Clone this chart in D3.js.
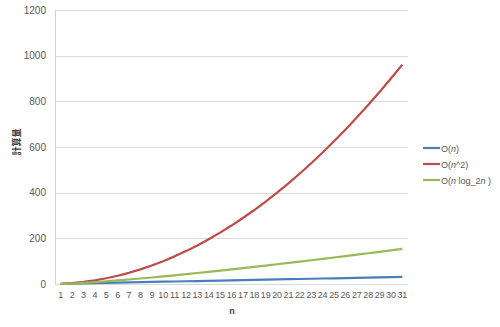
<!DOCTYPE html>
<html>
<head>
<meta charset="utf-8">
<script src="https://cdn.jsdelivr.net/npm/d3@7"></script>
<style>
  body { margin: 0; background: #fff; }
  svg { display: block; }
</style>
</head>
<body>
<svg width="500" height="327"></svg>
<script>
var ns = [1, 2, 3, 4, 5, 6, 7, 8, 9, 10, 11, 12, 13, 14, 15, 16, 17, 18, 19, 20, 21, 22, 23, 24, 25, 26, 27, 28, 29, 30, 31];
var linear = [1, 2, 3, 4, 5, 6, 7, 8, 9, 10, 11, 12, 13, 14, 15, 16, 17, 18, 19, 20, 21, 22, 23, 24, 25, 26, 27, 28, 29, 30, 31];
var square = [1, 4, 9, 16, 25, 36, 49, 64, 81, 100, 121, 144, 169, 196, 225, 256, 289, 324, 361, 400, 441, 484, 529, 576, 625, 676, 729, 784, 841, 900, 961];
var nlogn = [0, 2, 4.75, 8, 11.6, 15.5, 19.7, 24, 28.5, 33.2, 38.1, 43, 48.1, 53.3, 58.6, 64, 69.5, 75.1, 80.7, 86.4, 92.2, 98.1, 104, 110, 116.1, 122.2, 128.4, 134.6, 140.9, 147.2, 153.6];
var yTicks = [0, 200, 400, 600, 800, 1000, 1200];

var series = [
  { name: "n", vals: linear, color: "#4a7ebb" },
  { name: "n^2", vals: square, color: "#be4b48" },
  { name: "nlog", vals: nlogn, color: "#98b954" }
];

const svg = d3.select("svg");
const plotL = 55, plotR = 408, plotT = 10, plotB = 284;
const font = "'Liberation Sans', Arial, sans-serif";

var x = d3.scaleBand().domain(ns).range([plotL, plotR]);
var y = d3.scaleLinear().domain([0, 1200]).range([plotB, plotT]);

// gridlines
svg.append("g")
  .selectAll("line")
  .data(yTicks)
  .enter()
  .append("line")
  .attr("x1", plotL)
  .attr("x2", plotR)
  .attr("y1", d => Math.round(y(d)) + 0.5)
  .attr("y2", d => Math.round(y(d)) + 0.5)
  .attr("stroke", "#d9d9d9")
  .attr("stroke-width", 1);

// y axis line
svg.append("line")
  .attr("x1", plotL + 0.5).attr("x2", plotL + 0.5)
  .attr("y1", plotT).attr("y2", plotB)
  .attr("stroke", "#d0d0d0");

// y ticks
var yAxis = svg.append("g")
  .attr("transform", `translate(${plotL - 9},0)`)
  .call(d3.axisLeft(y).tickValues(yTicks).tickFormat(d3.format("d")).tickSize(0).tickPadding(0));
yAxis.select(".domain").remove();
yAxis.selectAll("text")
  .attr("fill", "#595959")
  .style("font-family", font)
  .style("font-size", "10px");

// x ticks
var xAxis = svg.append("g")
  .attr("transform", `translate(0,${plotB + 8})`)
  .call(d3.axisBottom(x).tickSize(0).tickPadding(0));
xAxis.select(".domain").remove();
xAxis.selectAll("text")
  .attr("fill", "#595959")
  .style("font-family", font)
  .style("font-size", "9px")
  .style("letter-spacing", "-0.2px");

// lines
var line = d3.line()
  .x((d, i) => x(ns[i]) + x.bandwidth() / 2)
  .y(d => y(d));

svg.append("g")
  .selectAll("path")
  .data(series)
  .enter()
  .append("path")
  .attr("d", d => line(d.vals))
  .attr("fill", "none")
  .attr("stroke", d => d.color)
  .attr("stroke-width", 2.2)
  .attr("stroke-linejoin", "round");

// axis titles
svg.append("text")
  .attr("transform", "translate(20,142) rotate(-90)")
  .attr("text-anchor", "middle")
  .attr("fill", "#404040")
  .style("font-family", "'Noto Sans CJK JP', sans-serif")
  .style("font-size", "9px")
  .style("font-weight", "bold")
  .text("計算量");

svg.append("text")
  .attr("x", 232)
  .attr("y", 314)
  .attr("text-anchor", "middle")
  .attr("fill", "#404040")
  .style("font-family", font)
  .style("font-size", "9px")
  .style("font-weight", "bold")
  .text("n");

// legend
var legendY = [148, 164, 180];
var lg = svg.append("g")
  .selectAll("g")
  .data(series)
  .enter()
  .append("g")
  .attr("transform", (d, i) => `translate(423,${legendY[i]})`);

lg.append("line")
  .attr("x1", 0).attr("x2", 17)
  .attr("stroke", d => d.color)
  .attr("stroke-width", 2.2);

var lt = lg.append("text")
  .attr("x", 18)
  .attr("y", 3.5)
  .attr("fill", "#595959")
  .style("font-family", font)
  .style("font-size", "9px");

lt.each(function (d) {
  var t = d3.select(this);
  if (d.name == "n") {
    t.append("tspan").text("O(");
    t.append("tspan").style("font-style", "italic").text("n");
    t.append("tspan").text(")");
  } else if (d.name == "n^2") {
    t.append("tspan").text("O(");
    t.append("tspan").style("font-style", "italic").text("n");
    t.append("tspan").text("^2)");
  } else {
    t.append("tspan").text("O(");
    t.append("tspan").style("font-style", "italic").text("n");
    t.append("tspan").text(" log_2");
    t.append("tspan").style("font-style", "italic").text("n");
    t.append("tspan").text(" )");
  }
});
</script>
</body>
</html>
